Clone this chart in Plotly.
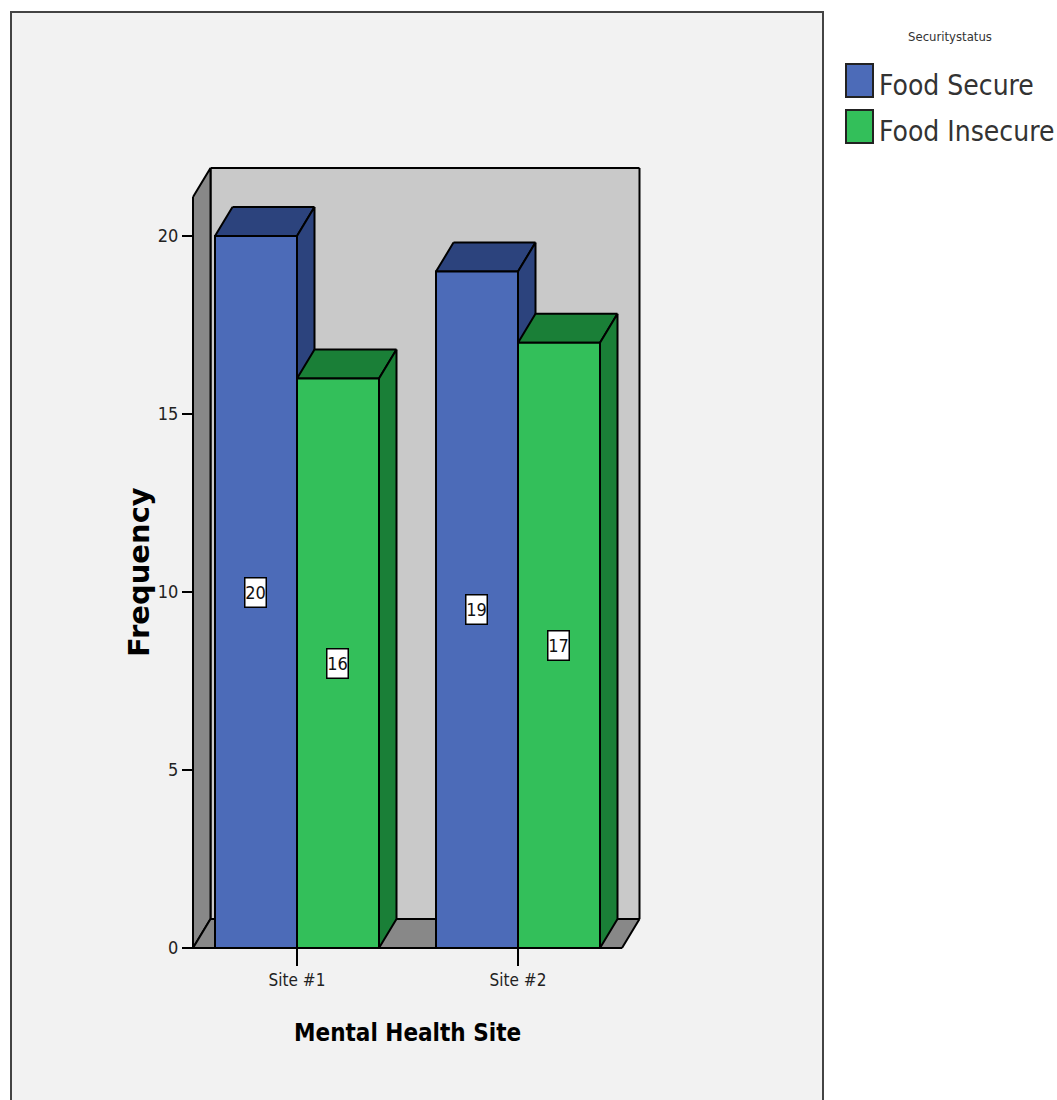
import plotly.graph_objects as go

# Chart data
sites = ["Site #1", "Site #2"]
food_secure = [20, 19]
food_insecure = [16, 17]
y_ticks = [0, 5, 10, 15, 20]
series_names = ["Food Secure", "Food Insecure"]
legend_title = "Securitystatus"
x_title = "Mental Health Site"
y_title = "Frequency"

# Colours
front_colors = ["#4C6BB8", "#33BF5A"]
dark_colors = ["#2C437D", "#1A7F37"]
WALL = "#C9C9C9"
SIDE = "#888888"
PANEL = "#F2F2F2"
NARROW = "DejaVu Sans Condensed, Liberation Sans, sans-serif"

# Canvas and pseudo-3D geometry
W, H = 1057, 1100
PX_X, PX_Y = 221.0, 35.6       # pixels per unit on each axis
X0_PX, Y0_PX = 297, 948        # pixel location of first category and of zero
L, R, T, B = 186, 646, 160, 954  # plot area edges
BAR_W = 82 / PX_X
DX = 17.5 / PX_X               # depth offset in x units
DY = 29 / PX_Y                 # depth offset in y units
X_LO = (193 - X0_PX) / PX_X    # front-left floor corner
X_HI = (622 - X0_PX) / PX_X    # front-right floor corner
Y_BACK = (948 - 197) / PX_Y    # height of the chart walls


def fx(px):
    # paper coordinates are measured against the plot area
    return (px - L) / (R - L)


def fy(px):
    return (B - px) / (B - T)


def poly(points, fill, width=2):
    # A filled face plus an outline of separate segments, which avoids
    # mitre spikes at the sharp corners of the parallelograms.
    fill_path = "M " + " L ".join(f"{x},{y}" for x, y in points) + " Z"
    edges = ""
    for a, b in zip(points, points[1:] + points[:1]):
        edges += f"M {a[0]},{a[1]} L {b[0]},{b[1]} "
    return [
        dict(type="path", path=fill_path, xref="x", yref="y", fillcolor=fill,
             line=dict(width=0), layer="below"),
        dict(type="path", path=edges.strip(), xref="x", yref="y",
             fillcolor="rgba(0,0,0,0)", line=dict(color="black", width=width), layer="below"),
    ]


shapes = [
    # Background panel
    dict(type="rect", xref="paper", yref="paper", x0=fx(11), x1=fx(823),
         y0=fy(1110), y1=fy(12), fillcolor=PANEL,
         line=dict(color="#444444", width=2), layer="below"),
]
# Back wall, left wall and floor
shapes += poly([(X_LO + DX, DY), (X_HI + DX, DY), (X_HI + DX, Y_BACK + DY), (X_LO + DX, Y_BACK + DY)], WALL)
shapes += poly([(X_LO, 0), (X_LO + DX, DY), (X_LO + DX, Y_BACK + DY), (X_LO, Y_BACK)], SIDE)
shapes += poly([(X_LO, 0), (X_LO + DX, DY), (X_HI + DX, DY), (X_HI, 0)], SIDE)

# Top and side faces of each bar, painted left to right so nearer faces overlap
for i in range(len(sites)):
    for s, values in enumerate([food_secure, food_insecure]):
        v = values[i]
        x0 = i - BAR_W + s * BAR_W
        x1 = x0 + BAR_W
        shapes += poly([(x0, v), (x0 + DX, v + DY), (x1 + DX, v + DY), (x1, v)], dark_colors[s])
        shapes += poly([(x1, 0), (x1 + DX, DY), (x1 + DX, v + DY), (x1, v)], dark_colors[s])

# Front floor edge
shapes.append(dict(type="line", xref="x", yref="y", x0=X_LO, x1=X_HI, y0=0, y1=0,
                   line=dict(color="black", width=2), layer="above"))

fig = go.Figure()
for s, values in enumerate([food_secure, food_insecure]):
    fig.add_trace(go.Bar(
        x=list(range(len(sites))), y=values, name=series_names[s],
        width=BAR_W, offset=-BAR_W + s * BAR_W,
        marker=dict(color=front_colors[s], line=dict(color="black", width=2)),
        showlegend=False, hoverinfo="x+y",
    ))

annotations = []
# Value boxes at mid-height of each bar
for s, values in enumerate([food_secure, food_insecure]):
    for i, v in enumerate(values):
        annotations.append(dict(
            x=i - BAR_W / 2 + s * BAR_W - 1 / PX_X, y=v / 2, xref="x", yref="y",
            text=str(v), showarrow=False, width=20, height=28, borderpad=0,
            bgcolor="white", bordercolor="black", borderwidth=1.5,
            font=dict(family=NARROW, size=18, color="#111111"),
        ))

# Axis titles
annotations.append(dict(x=fx(407), y=fy(1033), xref="paper", yref="paper", text=f"<b>{x_title}</b>",
                        xanchor="center", yanchor="middle", showarrow=False,
                        font=dict(family=NARROW, size=24, color="black")))
annotations.append(dict(x=fx(139), y=fy(572), xref="paper", yref="paper", text=f"<b>{y_title}</b>",
                        xanchor="center", yanchor="middle", showarrow=False, textangle=-90,
                        font=dict(family="DejaVu Sans", size=29, color="black")))

# Legend block
annotations.append(dict(x=fx(950), y=fy(36), xref="paper", yref="paper", text=legend_title,
                        xanchor="center", yanchor="middle", showarrow=False,
                        font=dict(family=NARROW, size=13, color="#333333")))
for s, name in enumerate(series_names):
    top = 64 + s * 46
    shapes.append(dict(type="rect", xref="paper", yref="paper", x0=fx(846), x1=fx(873),
                       y0=fy(top + 33), y1=fy(top), fillcolor=front_colors[s],
                       line=dict(color="#222222", width=2), layer="above"))
    annotations.append(dict(x=fx(877), y=fy(top + 21), xref="paper", yref="paper", text=name,
                            xanchor="left", yanchor="middle", showarrow=False,
                            font=dict(family=NARROW, size=28, color="#333333")))

fig.update_layout(
    width=W, height=H, autosize=False,
    margin=dict(l=L, r=W - R, t=T, b=H - B, pad=0),
    paper_bgcolor="white", plot_bgcolor="rgba(0,0,0,0)",
    barmode="overlay", shapes=shapes, annotations=annotations,
    font=dict(family=NARROW, color="#222222"),
    xaxis=dict(
        range=[(L - X0_PX) / PX_X, (R - X0_PX) / PX_X], tickmode="array",
        tickvals=list(range(len(sites))), ticktext=sites,
        anchor="free", position=fy(Y0_PX),
        ticks="outside", ticklen=17, tickwidth=2, tickcolor="black",
        tickfont=dict(family=NARROW, size=17, color="#222222"),
        showgrid=False, zeroline=False, showline=False,
    ),
    yaxis=dict(
        range=[(Y0_PX - B) / PX_Y, (Y0_PX - T) / PX_Y], tickmode="array",
        tickvals=y_ticks, anchor="free", position=fx(193),
        ticks="outside", ticklen=11, tickwidth=2, tickcolor="black",
        tickfont=dict(family=NARROW, size=18, color="#222222"),
        showgrid=False, zeroline=False, showline=False,
    ),
)

fig.write_html("out.html")
